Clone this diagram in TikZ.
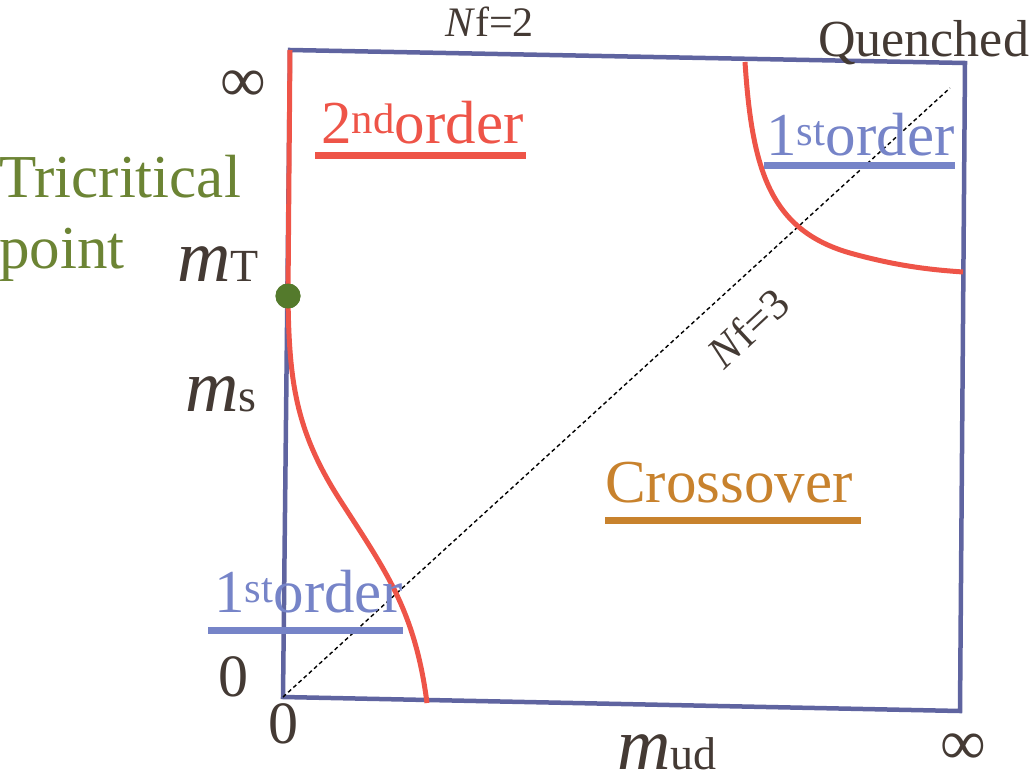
\documentclass[tikz,border=0pt]{standalone}
\usepackage{fontspec}
\setmainfont{Liberation Serif}
\newfontfamily\phasefont{Liberation Serif}
\usetikzlibrary{positioning, calc}
\definecolor{frameblue}{RGB}{95,100,160}
\definecolor{critred}{RGB}{238,84,72}
\definecolor{firstblue}{RGB}{118,132,200}
\definecolor{crossorange}{RGB}{200,130,45}
\definecolor{tcgreen}{RGB}{108,132,52}
\definecolor{dotgreen}{RGB}{84,122,44}
\definecolor{labelgray}{RGB}{68,58,52}
\tikzset{
    phase/.style={x=1pt, y=-1pt},
    frame/.style={draw=frameblue, line width=4.5pt, line join=miter},
    critline/.style={draw=critred, line width=5pt},
    nfline/.style={draw=black, line width=1.4pt, dash pattern=on 4pt off 3pt},
    uline/.style={line width=7pt},
    region/.style={inner sep=0pt, anchor=base west, font=\phasefont\fontsize{61}{61}\selectfont},
    axislbl/.style={inner sep=0pt, text=labelgray},
    masslbl/.style={axislbl, anchor=base west, font=\phasefont\fontsize{74}{74}\selectfont},
    tcpoint/.style={circle, fill=dotgreen, minimum size=25pt, inner sep=0pt},
}
\newcommand{\subsz}{\fontsize{46}{46}\selectfont}
\begin{document}
\begin{tikzpicture}[phase]
    \useasboundingbox (0,0) rectangle (1033,776);

    % frame of the phase diagram
    \coordinate (tl) at (290,50);
    \coordinate (tr) at (965,63);
    \coordinate (br) at (960,711);
    \coordinate (bl) at (283,697);
    \draw[frame] (tl) -- (tr) -- (br) -- (bl) -- cycle;

    % Nf=3 line
    \coordinate (nfend) at (950,88);
    \draw[nfline] (bl) -- (nfend);

    % critical lines
    \node[tcpoint] (tcp) at (288,296) {};
    \draw[critline] (tl) -- (tcp.center);
    \draw[critline] (tcp.center) .. controls (289,380) and (295,430) .. (340,500)
        .. controls (385,570) and (415,610) .. (427,703);
    \draw[critline] (745,62) .. controls (752,170) and (770,230) .. (850,253)
        .. controls (900,267) and (935,270) .. (963,272);
    \node[tcpoint] at (tcp) {};

    % regions
    \node[region, text=critred] (ord2) at (321,143) {2\textsuperscript{nd}order};
    \draw[uline, critred] ($(ord2.base west)+(-6,12)$) -- ($(ord2.base east)+(2,12)$);

    \node[region, text=firstblue] (ord1q) at (766,155) {1\textsuperscript{st}order};
    \draw[uline, firstblue] ($(ord1q.base west)+(-2,10)$) -- ($(ord1q.base east)+(0,10)$);

    \node[region, text=firstblue] (ord1c) at (214,612) {1\textsuperscript{st}order};
    \draw[uline, firstblue] ($(ord1c.base west)+(-6,18)$) -- ($(ord1c.base east)+(0,18)$);

    \node[region, text=crossorange] (cross) at (605,502) {Crossover};
    \draw[uline, crossorange] ($(cross.base west)+(0,18)$) -- ($(cross.base east)+(8,18)$);

    \node[region, text=tcgreen] (tcword) at (-1,197) {Tricritical};
    \node[region, text=tcgreen] (tcword2) at (-1,268) {point};

    % axis labels
    \node[axislbl, font=\phasefont\fontsize{64}{64}\selectfont] (infy) at (243,86) {∞};
    \node[axislbl, font=\phasefont\fontsize{64}{64}\selectfont] (infx) at (963,749) {∞};
    \node[axislbl, font=\phasefont\fontsize{60}{60}\selectfont] (zeroy) at (233,677) {0};
    \node[axislbl, font=\phasefont\fontsize{60}{60}\selectfont] (zerox) at (283,724) {0};
    \node[masslbl] (mt) at (177,281) {\textit{m}\subsz T};
    \node[masslbl] (ms) at (185,411) {\textit{m}\subsz s};
    \node[masslbl] (mud) at (617,769) {\textit{m}\subsz ud};

    \node[axislbl, anchor=base west, font=\phasefont\fontsize{42}{42}\selectfont] (nf2) at (445,37) {\textit{N}f=2};
    \node[axislbl, anchor=base west, font=\phasefont\fontsize{52}{52}\selectfont] (quen) at (818,57) {Quenched};
    \node[axislbl, rotate=43, font=\phasefont\fontsize{44}{44}\selectfont] (nf3) at (748,328) {\textit{N}f=3};
\end{tikzpicture}
\end{document}
